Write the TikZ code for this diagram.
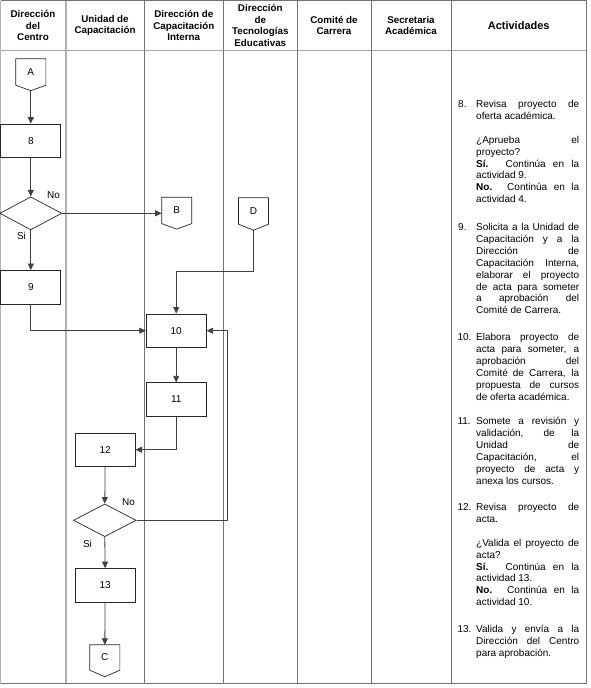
\documentclass[tikz,border=0pt]{standalone}
\usepackage{fontspec}
\setmainfont{Liberation Sans}
\usetikzlibrary{arrows.meta,shapes.geometric,calc}
\hyphenpenalty=10000 \tolerance=10000 \hbadness=10000
\begin{document}
\begin{tikzpicture}[x=1pt,y=-1pt,
  frame/.style={draw=black!55,line width=0.8pt},
  lightframe/.style={draw=black!30,line width=1.3pt},
  hdr/.style={font=\bfseries\fontsize{9.8}{11.7}\selectfont,align=center,inner sep=0pt},
  box/.style={draw=black!85,line width=0.8pt,minimum width=60pt,minimum height=33.5pt,inner sep=0pt,font=\fontsize{10}{12}\selectfont},
  dec/.style={draw=black!85,line width=0.7pt,diamond,minimum width=62pt,minimum height=33pt,inner sep=0pt},
  conn/.style={minimum width=29.7pt,minimum height=26pt,inner sep=0pt,font=\fontsize{10}{12}\selectfont},
  conndraw/.style={draw=black!85,line width=0.7pt},
  flow/.style={draw=black!75,line width=0.8pt,-{Triangle[length=6.5pt,width=6pt]}},
  lbl/.style={inner sep=0pt,font=\fontsize{10}{12}\selectfont},
  num/.style={anchor=base west,inner sep=0pt,font=\fontsize{10}{11.9}\selectfont},
  act/.style={anchor=base west,inner sep=0pt,text width=103pt,align=justify,font=\fontsize{10}{11.9}\selectfont}]
\useasboundingbox (0,0) rectangle (590,688);
\fill[white] (0,0) rectangle (590,688);
% frame
\draw[lightframe] (0.6,0.5) -- (0.6,683.5);
\draw[lightframe] (66,0.5) -- (66,683.5);
\draw[frame] (0.5,0.5) -- (586,0.5) -- (586,683.5) -- (0.5,683.5);
\draw[frame,draw=black!35] (0.5,50.7) -- (586,50.7);
\foreach \xx in {144.3,223.3,297.3,371,451.5}{\draw[frame] (\xx,0.5) -- (\xx,683.5);}
% header
\node[hdr] (h1) at (33,25.5) {Dirección\\del\\Centro};
\node[hdr] (h2) at (105,25.5) {Unidad de\\Capacitación};
\node[hdr] (h3) at (183.8,25.5) {Dirección de\\Capacitación\\Interna};
\node[hdr] (h4) at (260.3,25.5) {Dirección\\de\\Tecnologías\\Educativas};
\node[hdr] (h5) at (334,25.5) {Comité de\\Carrera};
\node[hdr] (h6) at (411,25.5) {Secretaria\\Académica};
\node[hdr,font=\bfseries\fontsize{11}{13}\selectfont] (h7) at (518.7,25.5) {Actividades};
% connectors
\node[conn] (A) at (30.8,72) {A};
\draw[conndraw] (A.north west) -- (A.north east) -- (A.south east) -- ($(A.south)+(0,5.5)$) coordinate (Atip) -- (A.south west) -- cycle;
\node[conn] (B) at (176.7,210.4) {B};
\draw[conndraw] (B.north west) -- (B.north east) -- (B.south east) -- ($(B.south)+(0,5.5)$) coordinate (Btip) -- (B.south west) -- cycle;
\node[conn] (D) at (253.5,211) {D};
\draw[conndraw] (D.north west) -- (D.north east) -- (D.south east) -- ($(D.south)+(0,6)$) coordinate (Dtip) -- (D.south west) -- cycle;
\node[conn,minimum height=25pt] (C) at (104.8,657.5) {C};
\draw[conndraw] (C.north west) -- (C.north east) -- (C.south east) -- ($(C.south)+(0,6.5)$) coordinate (Ctip) -- (C.south west) -- cycle;
% boxes
\node[box] (n8) at (30.8,140.8) {8};
\node[dec] (d1) at (30.8,213.3) {};
\node[box] (n9) at (30.8,287.2) {9};
\node[box] (n10) at (176.2,330.7) {10};
\node[box] (n11) at (176.2,399.5) {11};
\node[box] (n12) at (105.1,449.7) {12};
\node[dec,minimum width=62.7pt,minimum height=32.7pt] (d2) at (104.8,520.3) {};
\node[box] (n13) at (105.1,585.3) {13};
% labels
\node[lbl] (no1) at (53.5,195) {No};
\node[lbl] (si1) at (21.5,236) {Si};
\node[lbl] (no2) at (128.5,502) {No};
\node[lbl] (si2) at (87.5,543.5) {Si};
% flows
\coordinate (Dturn) at (253.5,271.7);
\coordinate (loop) at (227.3,520.3);
\draw[flow] (Atip) -- (n8.north);
\draw[flow] (n8.south) -- (d1.north);
\draw[flow] (d1.east) -- (d1.east -| B.west);
\draw[flow] (d1.south) -- (n9.north);
\draw[flow] (n9.south) |- (n10.west);
\draw[flow] (Dtip) -- (Dturn) -| (n10.north);
\draw[flow] (n10.south) -- (n11.north);
\draw[flow] (n11.south) |- (n12.east);
\draw[flow] (n12.south) -- (d2.north);
\draw[flow] (d2.south) -- (n13.north);
\draw[flow] (n13.south) -- (C.north);
\draw[flow] (d2.east) -- (loop) |- (n10.east);
% activities
\node[num] (k8) at (458,107.5) {8.};
\node[act] (t8) at (476,107.5) {Revisa proyecto de\linebreak oferta académica.\\[11.9pt]¿Aprueba el\linebreak proyecto?\\ \textbf{Sí.} Continúa en la\linebreak actividad 9.\\ \textbf{No.} Continúa en la\linebreak actividad 4.};
\node[num] (k9) at (458,230.5) {9.};
\node[act] (t9) at (476,230.5) {Solicita a la Unidad de\linebreak Capacitación y a la\linebreak Dirección de\linebreak Capacitación Interna,\linebreak elaborar el proyecto\linebreak de acta para someter\linebreak a aprobación del\linebreak Comité de Carrera.};
\node[num] (k10) at (457.3,340.5) {10.};
\node[act] (t10) at (476,340.5) {Elabora proyecto de\linebreak acta para someter, a\linebreak aprobación del\linebreak Comité de Carrera, la\linebreak propuesta de cursos\linebreak de oferta académica.};
\node[num] (k11) at (457.3,424.5) {11.};
\node[act] (t11) at (476,424.5) {Somete a revisión y\linebreak validación, de la\linebreak Unidad de\linebreak Capacitación, el\linebreak proyecto de acta y\linebreak anexa los cursos.};
\node[num] (k12) at (457.3,510.5) {12.};
\node[act] (t12) at (476,510.5) {Revisa proyecto de\linebreak acta.\\[11.9pt]¿Valida el proyecto de\linebreak acta?\\ \textbf{Sí.} Continúa en la\linebreak actividad 13.\\ \textbf{No.} Continúa en la\linebreak actividad 10.};
\node[num] (k13) at (457.3,632.5) {13.};
\node[act] (t13) at (476,632.5) {Valida y envía a la\linebreak Dirección del Centro\linebreak para aprobación.};
\end{tikzpicture}
\end{document}
